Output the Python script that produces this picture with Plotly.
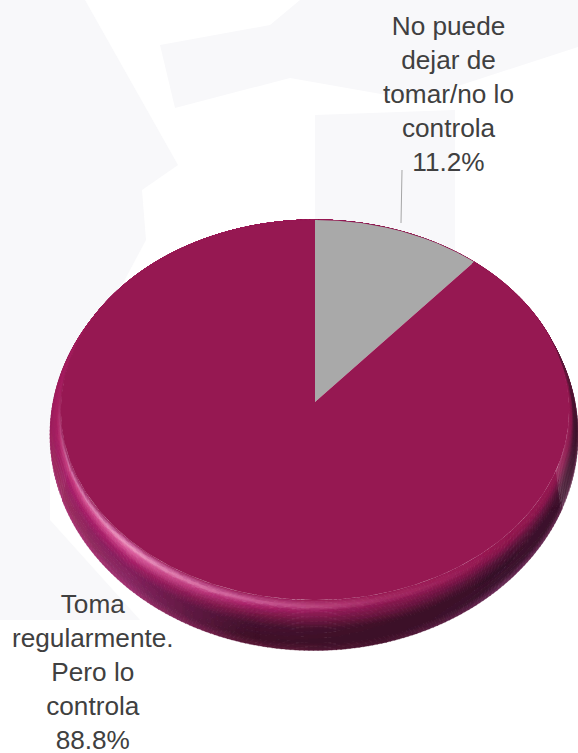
import numpy as np
import plotly.graph_objects as go

# ---- data ----
categories = ["No puede<br>dejar de<br>tomar/no lo<br>controla", "Toma<br>regularmente.<br>Pero lo<br>controla"]
values = [11.2, 88.8]
value_labels = ["11.2%", "88.8%"]
slice_colors = ["#a9a9a9", "#961852"]

# ---- geometry of the tilted disc (pixel-like axis units) ----
W, H = 578, 753
CX, CY = 315, 402
B, A, K = 254, 189.7, 0.042          # perspective projection of the unit circle
OX, OY, ORX, ORY = 314, 435, 264, 215  # outer silhouette of the disc


def face(theta, r=1.0):
    """theta clockwise from top, radians; perspective-projected disc."""
    X = r * np.sin(theta)
    Y = r * np.cos(theta) * -1  # back (top of picture) is Y<0
    d = 1 - K * Y
    return CX + B * X / d, CY + A * Y / d


def outer(theta):
    return OX + ORX * np.sin(theta), OY - ORY * np.cos(theta)


def hex2rgb(h):
    return np.array([int(h[i:i + 2], 16) for i in (1, 3, 5)], float)


# rim shading: rows are angles round the disc, columns are steps across the rim
T_STOPS = [0, .06, .13, .22, .4, .6, .85, 1]
THETA_KEYS = [0, 60, 90, 135, 165, 195, 225, 250, 275, 310, 360]
KEY_COLORS = [
    ["#961852"] * 8,
    ["#961852", "#951852", "#941852", "#8e1850", "#841648", "#7a1644", "#701640", "#701640"],
    ["#961852", "#941750", "#90174e", "#8a164c", "#701440", "#461030", "#3c1028", "#5a2040"],
    ["#961852", "#951750", "#90174e", "#84154a", "#521236", "#381028", "#3e1430", "#6c2c58"],
    ["#961852", "#a0245c", "#a42a64", "#8a1850", "#6c1640", "#3f1028", "#3a0f26", "#4a1430"],
    ["#961852", "#b03c78", "#d0609a", "#a82268", "#741844", "#461230", "#3f1028", "#5a1838"],
    ["#961852", "#c8609a", "#f09cc4", "#d85a9a", "#a82068", "#85205c", "#8a2a64", "#a03070"],
    ["#961852", "#a83a74", "#d878ac", "#c83c80", "#a82068", "#9a2464", "#98305f", "#a83070"],
    ["#961852", "#981a54", "#9c1e5a", "#a42262", "#a81f60", "#a41e60", "#a01e5c", "#961a58"],
    ["#961852", "#971854", "#981956", "#9b1a56", "#9e1c58", "#9e1c58", "#9c1c58", "#9a1a56"],
    ["#961852"] * 8,
]
key_rgb = np.array([[hex2rgb(c) for c in row] for row in KEY_COLORS])


def rim_color(th_deg, t):
    by_t = np.array([np.interp(th_deg, THETA_KEYS, key_rgb[:, j, c])
                     for j in range(len(T_STOPS)) for c in range(3)]).reshape(-1, 3)
    return [float(np.interp(t, T_STOPS, by_t[:, c])) for c in range(3)]


fig = go.Figure()

# faint backdrop patches
backdrop = [
    [(0, 0), (85, 0), (178, 165), (142, 190), (146, 240), (50, 420), (50, 520), (140, 620), (0, 620)],
    [(160, 45), (270, 25), (300, 0), (578, 0), (578, 47), (415, 100), (290, 78), (175, 108)],
    [(315, 115), (455, 110), (455, 265), (315, 240)],
]
for poly in backdrop:
    path = "M " + " L ".join(f"{x},{y}" for x, y in poly) + " Z"
    fig.add_shape(type="path", path=path, fillcolor="#f8f8fa", line_width=0, layer="below")

# rim of the disc, bucketed by shade so that it stays a few traces
N_TH, N_T = 360, 40
th_edges = np.linspace(0, 2 * np.pi, N_TH + 1)
t_edges = np.linspace(0, 1, N_T + 1)
buckets = {}
for i in range(N_TH):
    a0, a1 = th_edges[i], th_edges[i + 1] + 0.004
    mid = np.degrees((a0 + a1) / 2)
    fx0, fy0 = face(a0); fx1, fy1 = face(a1)
    ox0, oy0 = outer(a0); ox1, oy1 = outer(a1)
    for j in range(N_T):
        t0, t1 = t_edges[j], t_edges[j + 1] + 0.01
        col = rim_color(mid, (t0 + t1) / 2)
        key = tuple(int(round(v / 4) * 4) for v in col)
        xs = [fx0 + (ox0 - fx0) * t0, fx1 + (ox1 - fx1) * t0,
              fx1 + (ox1 - fx1) * t1, fx0 + (ox0 - fx0) * t1, fx0 + (ox0 - fx0) * t0, None]
        ys = [fy0 + (oy0 - fy0) * t0, fy1 + (oy1 - fy1) * t0,
              fy1 + (oy1 - fy1) * t1, fy0 + (oy0 - fy0) * t1, fy0 + (oy0 - fy0) * t0, None]
        bx, by = buckets.setdefault(key, ([], []))
        bx.extend(xs); by.extend(ys)

for key, (bx, by) in buckets.items():
    c = f"rgb({min(key[0],255)},{min(key[1],255)},{min(key[2],255)})"
    fig.add_trace(go.Scatter(x=bx, y=by, mode="lines", fill="toself", fillcolor=c,
                             line=dict(color=c, width=0.3), hoverinfo="skip", showlegend=False))

# the two slices, drawn from the values
fractions = np.cumsum([0] + values) / sum(values)
for name, c, f0, f1 in zip(categories, slice_colors, fractions[:-1], fractions[1:]):
    th = np.linspace(f0, f1, 400) * 2 * np.pi
    x, y = face(th)
    fig.add_trace(go.Scatter(x=[CX, *x, CX], y=[CY, *y, CY], mode="lines", fill="toself", fillcolor=c,
                             line=dict(width=0), name=name.replace("<br>", " "), showlegend=False))

# leader line for the small slice
lead_x, lead_y = [402, 401], [170, 223]
fig.add_trace(go.Scatter(x=lead_x, y=lead_y, mode="lines", line=dict(color="#a6a6a6", width=1),
                         hoverinfo="skip", showlegend=False))

label_pos = [(448, 94), (93, 672)]
for name, val, (lx, ly) in zip(categories, value_labels, label_pos):
    fig.add_annotation(x=lx, y=ly, xref="x", yref="y", text=f"{name}<br>{val}", showarrow=False,
                       xanchor="center", yanchor="middle", align="center", borderpad=0,
                       font=dict(family="Liberation Sans, Arial, sans-serif", size=26.2, color="#404040"))

fig.update_layout(width=W, height=H, margin=dict(l=0, r=0, t=0, b=0), paper_bgcolor="white",
                  plot_bgcolor="white", showlegend=False,
                  xaxis=dict(range=[0, W], visible=False, fixedrange=True),
                  yaxis=dict(range=[H, 0], visible=False, fixedrange=True))
fig.write_html("out.html", config=dict(displayModeBar=False),
               post_script="document.body.style.margin='0';document.documentElement.style.overflow='hidden';")
